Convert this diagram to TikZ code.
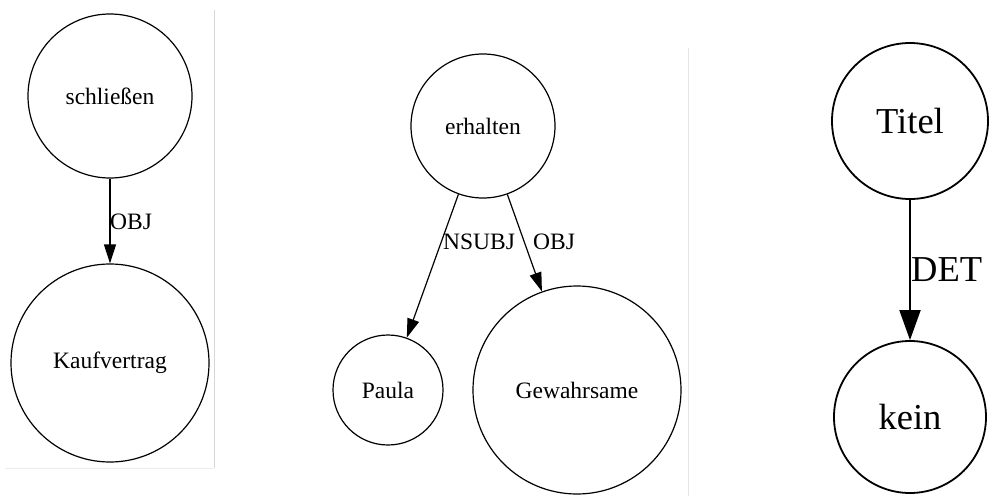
\documentclass[tikz,border=0pt]{standalone}
\usepackage{fontspec}
\setmainfont{Liberation Serif}
\usetikzlibrary{arrows.meta}

\begin{document}
\begin{tikzpicture}[x=1pt,y=-1pt,
  word/.style={circle,draw,line width=1.2pt,inner sep=0pt,font=\fontsize{23.5}{26}\selectfont},
  bigword/.style={circle,draw,line width=1.8pt,inner sep=0pt,font=\fontsize{36.5}{40}\selectfont},
  rel/.style={line width=1.2pt,-{Triangle[length=19pt,width=12pt]}},
  bigrel/.style={line width=1.8pt,-{Triangle[length=30pt,width=21pt]}},
  lab/.style={anchor=west,inner sep=0pt,font=\fontsize{23.5}{26}\selectfont},
  biglab/.style={anchor=west,inner sep=0pt,font=\fontsize{36.5}{40}\selectfont},
  frame/.style={line width=0.8pt}]
\useasboundingbox (0,0) rectangle (989,496);

% panel edges
\draw[frame,black!16] (214,10) -- (214,468);
\draw[frame,black!7] (5,468) -- (214,468);
\draw[frame,black!10] (688,48) -- (688,496);

% first tree
\node[word,minimum size=164pt] (schl) at (110,96) {schließen};
\node[word,minimum size=198pt] (kauf) at (110,363) {Kaufvertrag};
\draw[rel] (schl) -- (kauf);
\node[lab] (l1) at (110,222) {OBJ};

% second tree
\node[word,minimum size=144pt] (erh) at (483,126) {erhalten};
\node[word,minimum size=110pt] (paula) at (388,390) {Paula};
\node[word,minimum size=208pt] (gew) at (577,390) {Gewahrsame};
\draw[rel] (erh) -- (paula);
\draw[rel] (erh) -- (gew);
\node[lab] (l2) at (443,242) {NSUBJ};
\node[lab] (l3) at (533,242) {OBJ};

% third tree
\node[bigword,minimum size=156pt] (titel) at (910,121) {Titel};
\node[bigword,minimum size=152pt] (kein) at (910,417) {kein};
\draw[bigrel] (titel) -- (kein);
\node[biglab] (l4) at (911,270) {DET};
\end{tikzpicture}
\end{document}
